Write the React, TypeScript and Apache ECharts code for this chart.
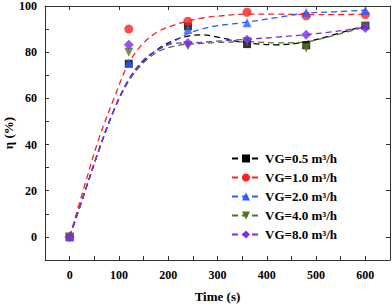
import React, { useEffect, useRef } from "react";
import * as echarts from "echarts";

const seriesNames = ["VG=0.5 m³/h", "VG=1.0 m³/h", "VG=2.0 m³/h", "VG=4.0 m³/h", "VG=8.0 m³/h"];
const colors = ["#000000", "#ff1f1f", "#2a5cff", "#52761c", "#7b2cf2"];
const symbols = ["rect", "circle", "triangle", "triangle", "diamond"];
const symbolRotates = [0, 0, 0, 180, 0];
const symbolSizes = [8, 9, 9, 9, 10];

// measured points
const times = [0, 120, 240, 360, 480, 600];
const pts05 = [0, 75, 91.2, 83.5, 83, 91.5];
const pts10 = [0, 90, 93.4, 97.3, 95.7, 96.3];
const pts20 = [0, 75.3, 89.8, 92.8, 97.2, 98];
const pts40 = [0, 80, 82.8, 84.5, 81.8, 91];
const pts80 = [0, 83.2, 84, 85.4, 87.5, 90.5];

// dashed curves
const curveTimes = [0, 30, 60, 90, 120, 150, 180, 210, 240, 270, 300, 360, 420, 480, 540, 600];
const curve05 = [0, 19, 38, 55, 68, 76, 81.5, 85, 87, 87.5, 86.5, 84, 83.2, 84.5, 87.8, 91.5];
const curve10 = [0, 22, 43, 60, 75.3, 84, 89, 91.6, 93.5, 94.8, 95.6, 96.5, 96.5, 96.3, 96.3, 96.4];
const curve20 = [0, 19, 38, 55, 68.3, 76.6, 81.3, 84.5, 88, 90.2, 91.5, 93, 95, 96.9, 97.5, 98.2];
const curve40 = [0, 19, 38, 55, 67.5, 75.5, 80.2, 82.5, 83.4, 83.8, 84.2, 84.5, 84, 84.5, 87.5, 91];
const curve80 = [0, 19, 38, 55, 68, 76.5, 81, 83.8, 84, 84.3, 84.8, 85.6, 86.5, 87.6, 89, 90.8];

const xLabels = [0, 100, 200, 300, 400, 500, 600];
const yLabels = [0, 20, 40, 60, 80, 100];

const allPts = [pts05, pts10, pts20, pts40, pts80];
const allCurves = [curve05, curve10, curve20, curve40, curve80];

const FONT = "'Liberation Serif', 'Times New Roman', serif";

export default function App() {
  const ref = useRef<HTMLDivElement>(null);
  useEffect(() => {
    if (!ref.current) return;
    const chart = echarts.init(ref.current, null, { renderer: "svg" });
    const lineSeries = seriesNames.map((name, i) => ({
      name,
      type: "line",
      data: curveTimes.map((t, j) => [t, allCurves[i][j]]),
      smooth: 0.35,
      showSymbol: false,
      symbol: symbols[i],
      symbolRotate: symbolRotates[i],
      symbolSize: symbolSizes[i],
      itemStyle: { color: colors[i] },
      lineStyle: { color: colors[i], width: 1.3, type: [6, 4] },
      z: 2,
    }));
    const scatterSeries = seriesNames.map((name, i) => ({
      name,
      type: "scatter",
      data: times.map((t, j) => [t, allPts[i][j]]),
      symbol: symbols[i],
      symbolRotate: symbolRotates[i],
      symbolSize: symbolSizes[i],
      itemStyle: { color: colors[i] },
      z: 3,
    }));
    const axisLineStyle = { color: "#333", width: 1 };
    chart.setOption({
      animation: false,
      grid: { left: 45, right: 2, top: 6, bottom: 47, containLabel: false, outerBoundsMode: "none" },
      legend: {
        orient: "vertical",
        left: 226,
        top: 147,
        itemWidth: 28,
        itemHeight: 10,
        itemGap: 6,
        data: seriesNames,
        textStyle: { fontFamily: FONT, fontWeight: "bold", fontSize: 13, color: "#000" },
      },
      xAxis: [
        {
          type: "value",
          min: -50,
          max: 650,
          interval: 50,
          name: "Time (s)",
          nameLocation: "middle",
          nameGap: 30,
          nameMoveOverlap: false,
          nameTextStyle: { fontFamily: FONT, fontWeight: "bold", fontSize: 13, color: "#000" },
          axisLine: { show: true, onZero: false, lineStyle: axisLineStyle },
          axisTick: { show: true, inside: true, length: 4, lineStyle: axisLineStyle },
          axisLabel: {
            customValues: xLabels,
            fontFamily: FONT,
            fontWeight: "bold",
            fontSize: 12,
            color: "#000",
            margin: 9,
          },
          splitLine: { show: false },
        },
        {
          type: "value",
          position: "top",
          min: -50,
          max: 650,
          interval: 50,
          axisLine: { show: true, onZero: false, lineStyle: axisLineStyle },
          axisTick: { show: true, inside: true, length: 4, customValues: xLabels, lineStyle: axisLineStyle },
          axisLabel: { show: false },
          splitLine: { show: false },
        },
      ],
      yAxis: [
        {
          type: "value",
          min: -10,
          max: 100,
          interval: 10,
          name: "η (%)",
          nameLocation: "middle",
          nameGap: 30,
          nameMoveOverlap: false,
          nameRotate: 90,
          nameTextStyle: { fontFamily: FONT, fontWeight: "bold", fontSize: 13, color: "#000" },
          axisLine: { show: true, onZero: false, lineStyle: axisLineStyle },
          axisTick: { show: true, inside: true, length: 4, lineStyle: axisLineStyle },
          axisLabel: {
            customValues: yLabels,
            fontFamily: FONT,
            fontWeight: "bold",
            fontSize: 12,
            color: "#000",
            margin: 8,
          },
          splitLine: { show: false },
        },
        {
          type: "value",
          position: "right",
          min: -10,
          max: 100,
          interval: 10,
          axisLine: { show: true, onZero: false, lineStyle: axisLineStyle },
          axisTick: { show: true, inside: true, length: 4, customValues: yLabels, lineStyle: axisLineStyle },
          axisLabel: { show: false },
          splitLine: { show: false },
        },
      ],
      series: [...lineSeries, ...scatterSeries],
    });
    return () => chart.dispose();
  }, []);
  return (
    <div
      ref={ref}
      style={{ position: "fixed", left: 0, top: 0, width: 392, height: 307, background: "#fff" }}
    />
  );
}
